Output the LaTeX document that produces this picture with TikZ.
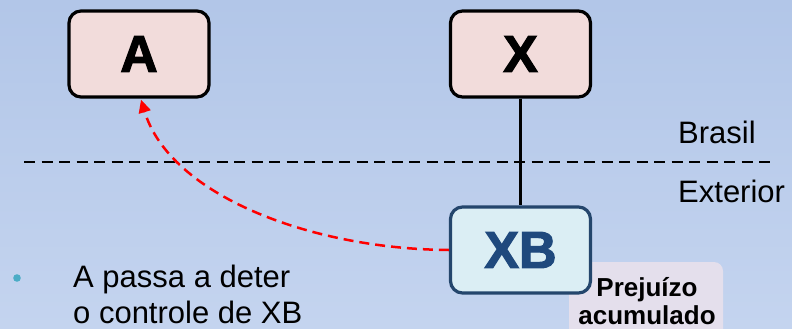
\documentclass[tikz,border=0pt]{standalone}
\usepackage{fontspec}
\setmainfont{Liberation Sans}
\newfontfamily\heavyfont[FakeBold=2.2]{Liberation Sans Bold}
\usetikzlibrary{arrows.meta}
\definecolor{bgtop}{HTML}{B2C6E8}
\definecolor{bgbot}{HTML}{C4D4EF}
\definecolor{pinkfill}{HTML}{F2DCDB}
\definecolor{bluefill}{HTML}{DBEEF4}
\definecolor{navy}{HTML}{1F497D}
\definecolor{navyline}{HTML}{24466C}
\definecolor{lavender}{HTML}{E4DFEC}
\definecolor{bullet}{HTML}{4BACC6}
\definecolor{arrowred}{HTML}{FF0000}
\tikzset{
  entity/.style={draw=black, line width=3.2pt, rounded corners=12pt, fill=pinkfill,
    minimum width=140pt, minimum height=86pt, inner sep=0pt,
    font=\heavyfont\fontsize{52}{52}\selectfont},
  foreign/.style={entity, draw=navyline, fill=bluefill, text=navy},
  plain/.style={inner sep=0pt, anchor=base west, font=\fontsize{31}{31}\selectfont},
  note/.style={inner sep=0pt, anchor=base, font=\fontsize{26}{26}\selectfont\bfseries},
  border/.style={black, line width=2pt, dash pattern=on 11pt off 6.5pt},
  control/.style={arrowred, line width=2.5pt, dash pattern=on 10pt off 6pt,
    -{Triangle[length=13pt,width=12pt]}}
}
\begin{document}
\begin{tikzpicture}[x=1pt,y=-1pt]
  \useasboundingbox (0,0) rectangle (792,329);
  \clip (0,0) rectangle (792,329);
  \shade[top color=bgtop, bottom color=bgbot] (0,0) rectangle (792,329);

  % country border
  \coordinate (bl) at (24,162);
  \coordinate (br) at (776,162);
  \draw[border] (bl) -- (br);
  \node[plain] (brasil) at (678,143) {Brasil};
  \node[plain] (exterior) at (678,202) {Exterior};

  % note box behind XB
  \fill[lavender, rounded corners=9pt] (569,262) rectangle (723,345);
  \node[note] (prej) at (647,296) {Prejuízo};
  \node[note] (acum) at (647,324) {acumulado};

  % entities
  \node[entity] (A) at (139,54) {A};
  \node[entity] (X) at (520.5,54) {X};
  \node[foreign] (XB) at (520.5,250) {XB};

  \draw[black, line width=3pt] (X.south) -- (XB.north);

  % control arrow
  \draw[control] (XB.west) .. controls (310,249) and (170,195) .. ([xshift=2pt,yshift=-1pt]A.south);

  % bullet text
  \fill[bullet] (17,278) circle (3.8pt);
  \node[plain] (l1) at (73,287) {A passa a deter};
  \node[plain] (l2) at (73,323) {o controle de XB};
\end{tikzpicture}
\end{document}
